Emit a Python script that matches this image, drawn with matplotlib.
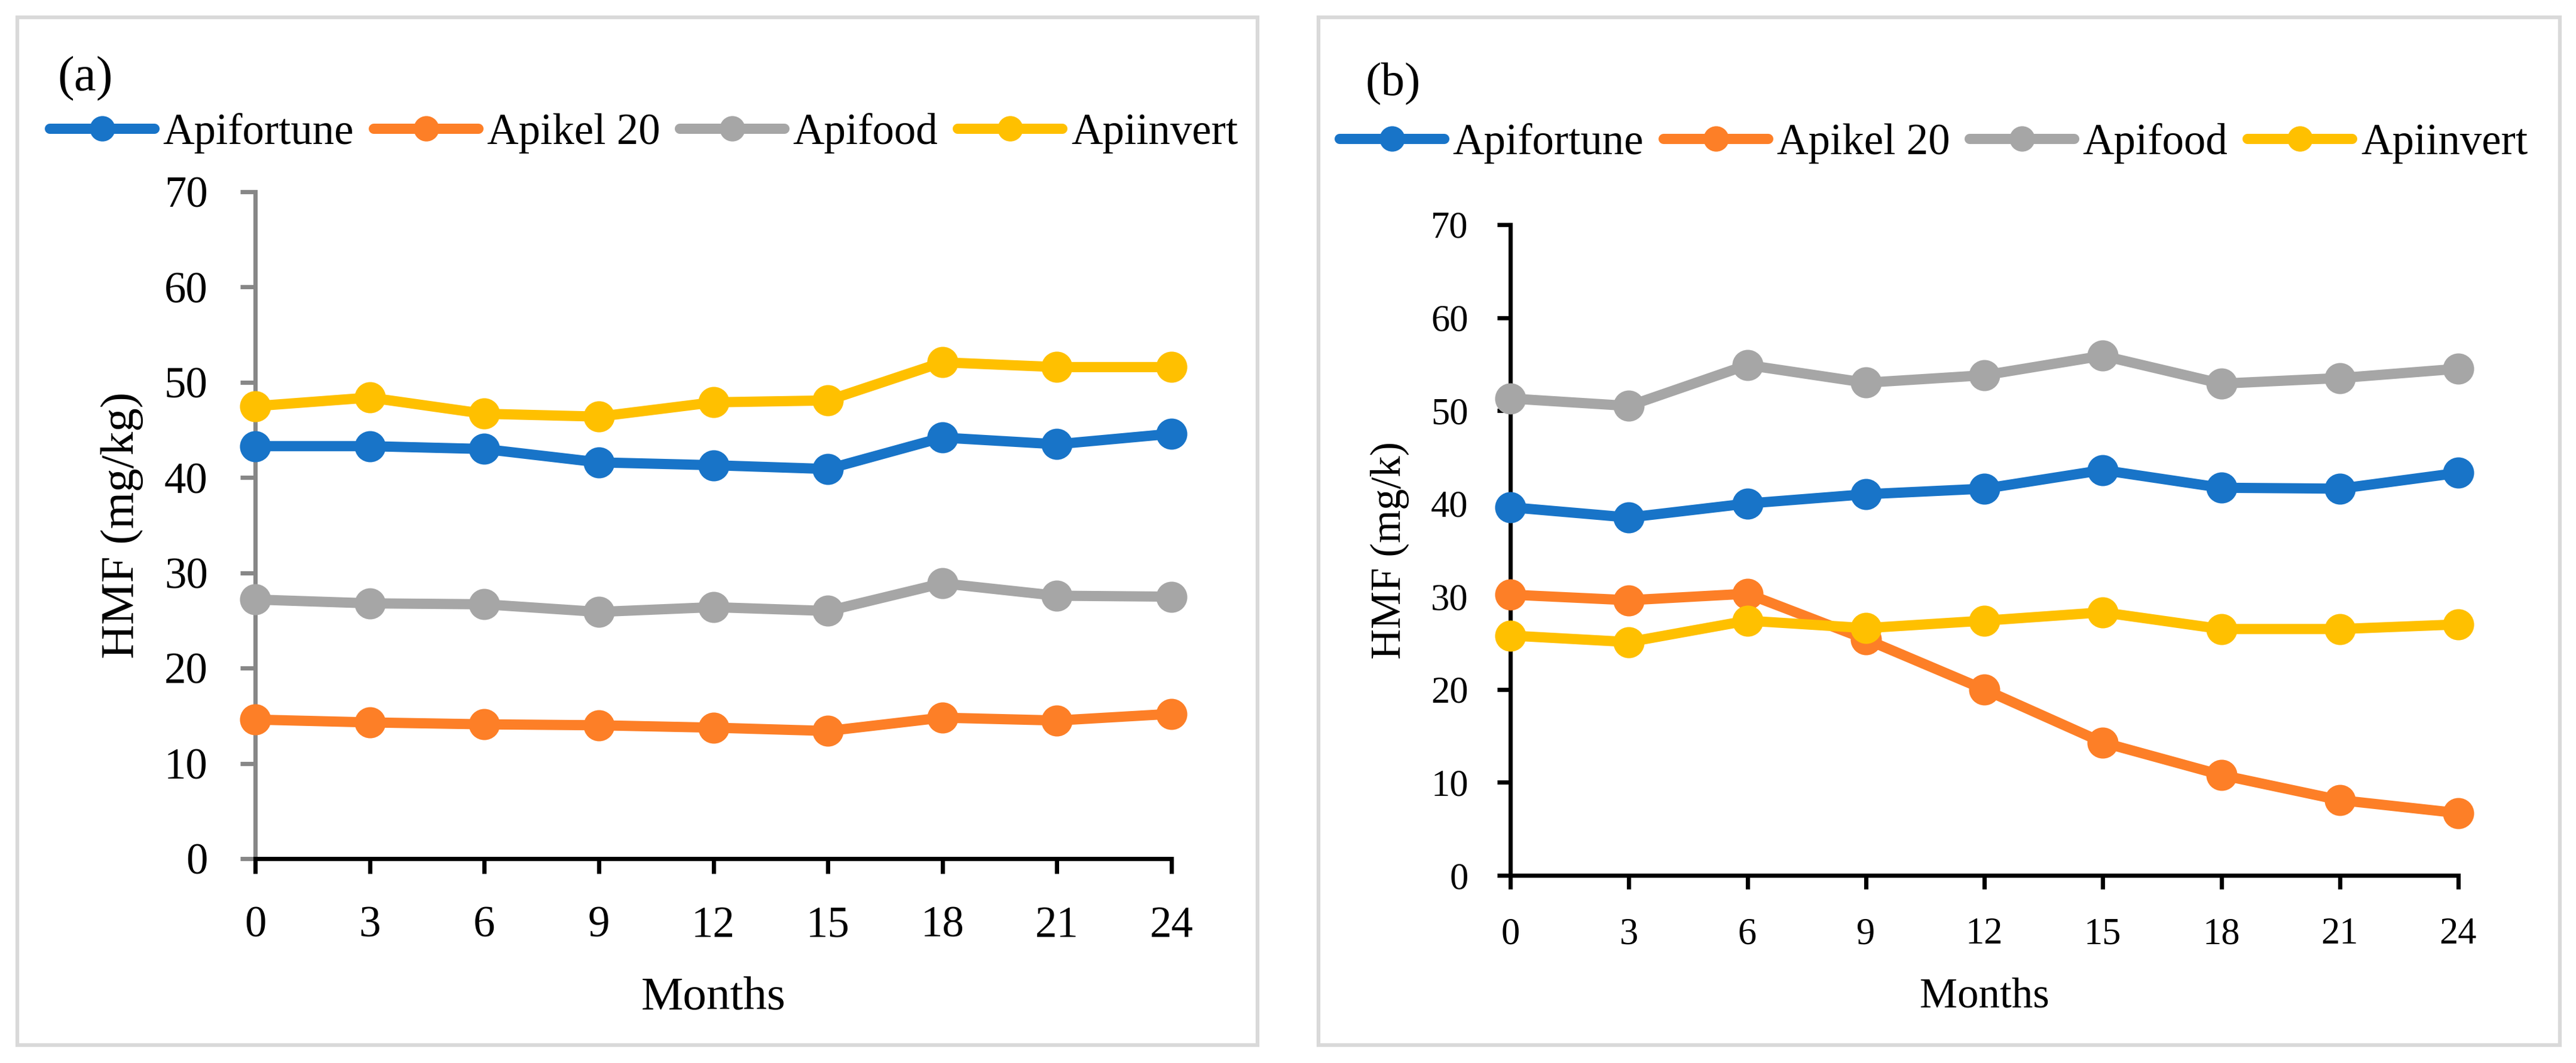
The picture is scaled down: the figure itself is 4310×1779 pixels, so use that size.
import matplotlib
matplotlib.use("Agg")
import matplotlib.pyplot as plt
from matplotlib.patches import Rectangle

plt.rcParams['font.family'] = ['Liberation Serif', 'DejaVu Serif']

months = [0, 3, 6, 9, 12, 15, 18, 21, 24]
series_names = ['Apifortune', 'Apikel 20', 'Apifood', 'Apiinvert']
colors = ['#1874c8', '#fd7f27', '#a6a6a6', '#ffc000']

# panel (a)
a_apifortune = [43.3, 43.3, 43.0, 41.6, 41.3, 40.9, 44.2, 43.5, 44.6]
a_apikel20 = [14.6, 14.3, 14.1, 14.0, 13.75, 13.4, 14.8, 14.5, 15.2]
a_apifood = [27.2, 26.8, 26.7, 25.9, 26.4, 26.0, 28.9, 27.6, 27.5]
a_apiinvert = [47.5, 48.4, 46.7, 46.4, 47.9, 48.1, 52.1, 51.6, 51.6]

# panel (b)
b_apifortune = [39.6, 38.5, 40.0, 41.0, 41.6, 43.6, 41.7, 41.6, 43.3]
b_apikel20 = [30.2, 29.6, 30.3, 25.4, 20.0, 14.3, 10.8, 8.1, 6.7]
b_apifood = [51.3, 50.5, 54.9, 53.0, 53.8, 55.9, 52.9, 53.5, 54.5]
b_apiinvert = [25.8, 25.1, 27.4, 26.6, 27.4, 28.3, 26.5, 26.5, 27.0]

yticks = [0, 10, 20, 30, 40, 50, 60, 70]

W, H = 4310, 1779
fig = plt.figure(figsize=(W / 300, H / 300), dpi=300)


def fx(px):
    return px / W


def fy(py):
    return (H - py) / H


def draw_panel(box, ax_px, data, ylabel, tag, tag_pos, leg_pos, yaxis_color,
               tick_size, label_size, tag_size, tick_len, tick_pad, ylab_x, xlab_y):
    x0, y0, x1, y1 = box
    fig.patches.append(Rectangle((fx(x0), fy(y1)), fx(x1) - fx(x0), fy(y0) - fy(y1),
                                 transform=fig.transFigure, fill=False,
                                 edgecolor='#d9d9d9', linewidth=1.5))
    l, t, r, b = ax_px
    ax = fig.add_axes([fx(l), fy(b), fx(r) - fx(l), fy(t) - fy(b)])
    for vals, name, c in zip(data, series_names, colors):
        ax.plot(months, vals, color=c, lw=4.1, marker='o', ms=11.5, label=name,
                clip_on=False, solid_capstyle='round', zorder=3)
    ax.set_xlim(0, 24)
    ax.set_ylim(0, 70)
    ax.set_xticks(months)
    ax.set_yticks(yticks)
    for s in ['top', 'right']:
        ax.spines[s].set_visible(False)
    ax.spines['left'].set_color(yaxis_color)
    ax.spines['left'].set_linewidth(1.7)
    ax.spines['bottom'].set_color('black')
    ax.spines['bottom'].set_linewidth(1.7)
    ax.spines['bottom'].set_zorder(4)
    ax.tick_params(axis='y', direction='out', length=tick_len, width=1.7,
                   color=yaxis_color, labelsize=tick_size, pad=tick_pad)
    ax.tick_params(axis='x', direction='out', length=tick_len, width=1.7,
                   color='black', labelsize=tick_size, pad=tick_pad)
    ax.set_ylabel(ylabel, fontsize=label_size, va='center')
    ax.yaxis.set_label_coords(ylab_x, 0.5)
    ax.set_xlabel('Months', fontsize=label_size, va='center')
    ax.xaxis.set_label_coords(0.5, xlab_y)
    ax.legend(loc='center', bbox_to_anchor=(fx(leg_pos[0]), fy(leg_pos[1])),
              bbox_transform=fig.transFigure, ncol=4, frameon=False,
              fontsize=17.5, handlelength=2.4, handletextpad=0.2,
              columnspacing=0.45, markerscale=0.8)
    fig.text(fx(tag_pos[0]), fy(tag_pos[1]), tag, fontsize=tag_size,
             ha='center', va='center')
    return ax


draw_panel((29, 29, 2104, 1749), (427, 321, 1960, 1437),
           [a_apifortune, a_apikel20, a_apifood, a_apiinvert],
           'HMF (mg/kg)', '(a)', (143, 132), (1077, 223), '#878787',
           17.5, 19, 20, 6, 13, -0.1455, -0.209)

draw_panel((2206, 29, 4283, 1749), (2527, 376, 4113, 1465),
           [b_apifortune, b_apikel20, b_apifood, b_apiinvert],
           'HMF (mg/k)', '(b)', (2331, 141), (3235, 240), 'black',
           15, 17, 19, 5.4, 11.5, -0.1274, -0.1864)

fig.savefig('out.png', dpi=300, facecolor='white')
